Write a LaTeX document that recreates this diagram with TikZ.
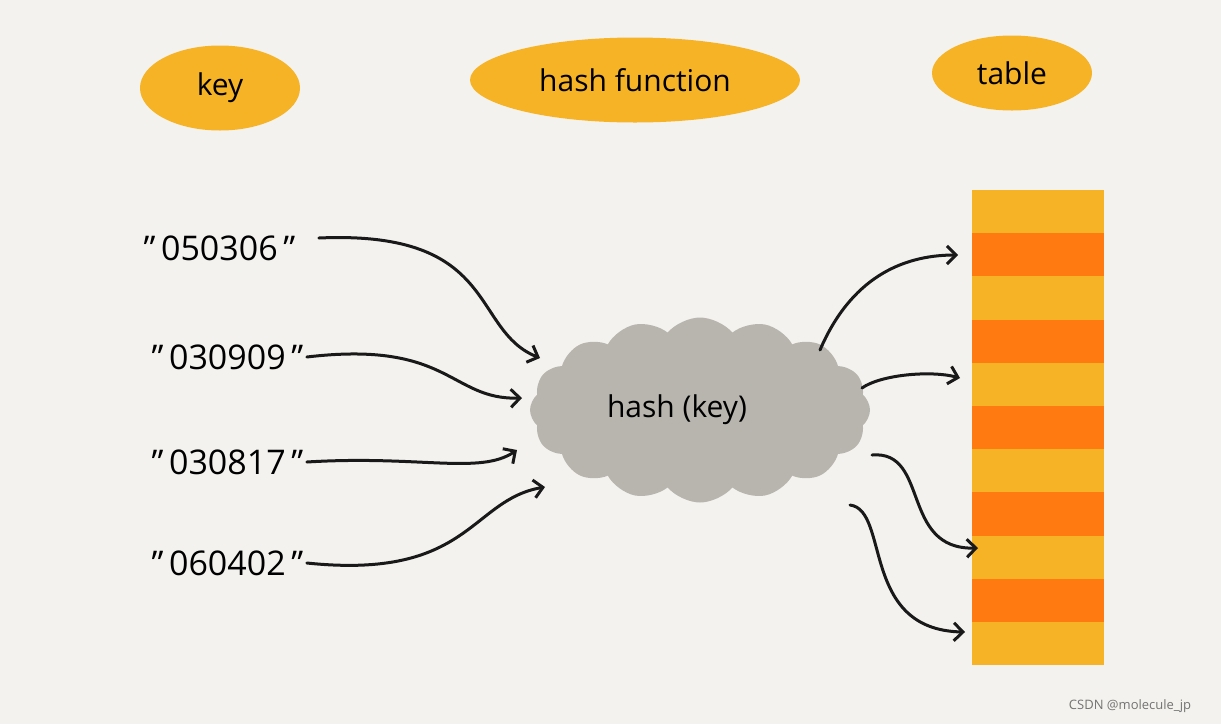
\documentclass[tikz,border=0pt]{standalone}
\usepackage{fontspec}
\setmainfont{Open Sans}
\usetikzlibrary{shapes.symbols,shapes.geometric,arrows.meta}
\definecolor{bg}{HTML}{F4F2EE}
\definecolor{yel}{HTML}{F5B325}
\definecolor{org}{HTML}{FF7A10}
\definecolor{cl}{HTML}{B8B5AE}
\begin{document}
\begin{tikzpicture}[x=1pt,y=-1pt,
  blob/.style={ellipse,fill=yel,inner sep=0pt},
  lbl/.style={font=\fontsize{30}{32}\selectfont},
  key/.style={font=\fontsize{34}{36}\selectfont,anchor=west},
  arr/.style={-{Straight Barb[length=9pt,width=18pt,line width=3pt]},line width=3pt,black!90,line cap=round}]
\fill[bg] (0,0) rectangle (1221,724);
\useasboundingbox (0,0) rectangle (1221,724);
\node[blob,minimum width=160,minimum height=85] (bk) at (220,88) {};
\node[lbl] at (bk) {key};
\node[blob,minimum width=330,minimum height=85] (bh) at (635,80) {};
\node[lbl] at (bh) {hash function};
\node[blob,minimum width=160,minimum height=75] (bt) at (1012,73) {};
\node[lbl] at (bt) {table};
% table
\foreach \i in {0,...,10}{
  \pgfmathsetmacro\ya{190+\i*43.2}
  \pgfmathsetmacro\yb{190+(\i+1)*43.2}
  \pgfmathparse{mod(\i,2)==0 ? "yel" : "org"}
  \edef\c{\pgfmathresult}
  \fill[\c] (972,\ya) rectangle (1104,\yb);
}
\coordinate (t2) at (958,255);
\coordinate (t5) at (960,378);
\coordinate (t9) at (978,548);
\coordinate (t11) at (965,632);
% cloud
\node[cloud,cloud puffs=16,cloud puff arc=100,aspect=1.9,fill=cl,minimum width=340,minimum height=185] (cloud) at (700,410) {};
\node[lbl] (hk) at (677,410) {hash (key)};
% keys
\node[key] (k1) at (140,248) {"\,050306\,"};
\node[key] (k2) at (148,357) {"\,030909\,"};
\node[key] (k3) at (148,462) {"\,030817\,"};
\node[key] (k4) at (148,563) {"\,060402\,"};
\coordinate (i1) at (540,358);
\coordinate (i2) at (522,398);
\coordinate (i3) at (517,450);
\coordinate (i4) at (545,487);
\coordinate (o1) at (820,350);
\coordinate (o2) at (862,388);
\coordinate (o3) at (872,455);
\coordinate (o4) at (850,505);
\draw[arr] (k1.east)++(20,-10) .. controls (500,230) and (470,330) .. (i1);
\draw[arr] (k2.east) .. controls (450,340) and (450,400) .. (i2);
\draw[arr] (k3.east) .. controls (420,455) and (480,475) .. (i3);
\draw[arr] (k4.east) .. controls (470,580) and (470,500) .. (i4);
\draw[arr] (o1) .. controls (850,280) and (900,255) .. (t2);
\draw[arr] (o2) .. controls (880,375) and (930,370) .. (t5);
\draw[arr] (o3) .. controls (930,450) and (900,550) .. (t9);
\draw[arr] (o4) .. controls (890,510) and (860,630) .. (t11);
\node[font=\fontsize{13}{14}\selectfont,text=black!55] (wm) at (1130,706) {CSDN @molecule\_jp};
\end{tikzpicture}
\end{document}
